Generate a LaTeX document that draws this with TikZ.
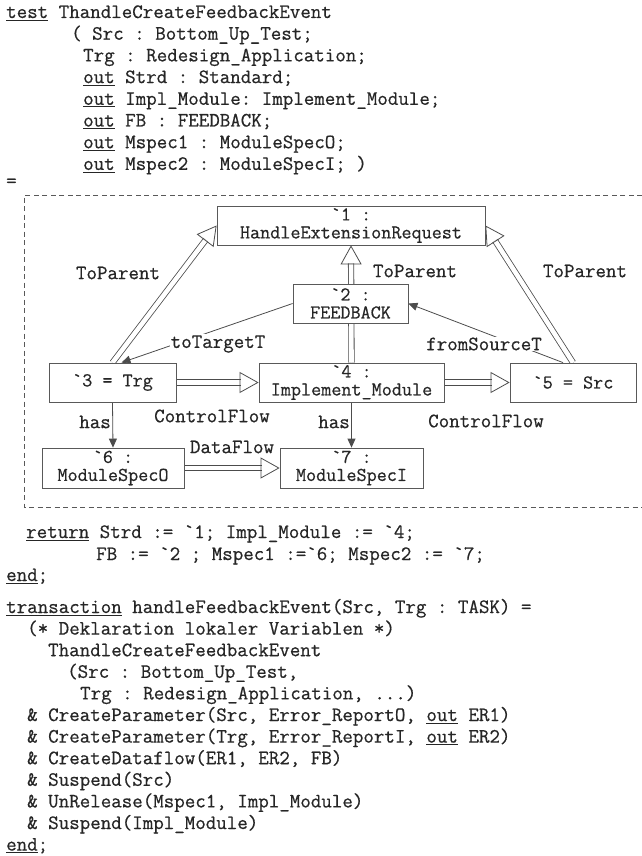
\documentclass[tikz,border=0pt]{standalone}
\usepackage{fontspec}
\setmonofont{Latin Modern Mono}[FakeBold=0.6]
\usetikzlibrary{arrows.meta,backgrounds}

\newcommand\codefont{\ttfamily\fontsize{20.4}{20}\selectfont}
\newcommand\boxfont{\ttfamily\fontsize{19.6}{18}\selectfont}
\newcommand\kw[1]{\leavevmode\setbox0\hbox{#1}\rlap{\rule[-2.6pt]{\wd0}{0.9pt}}\box0\relax}

\tikzset{
  code/.style={anchor=base west, inner sep=0pt, text=black!85, font=\codefont},
  box/.style={draw=black!65, line width=0.8pt, fill=white, align=center, inner sep=0pt, text=black!85, font=\boxfont},
  lbl/.style={fill=white, inner sep=1pt, text=black!85, font=\codefont},
  flow/.style={draw=black!70, line width=0.8pt, double=white, double distance=4.6pt, shorten >=18pt},
  flowtip/.style={draw=white, line width=0.3pt, -{Triangle[open, length=19pt, width=21pt, color=black!70, line width=0.8pt]}},
  link/.style={draw=black!70, line width=0.8pt, -{Triangle[length=9pt, width=8pt]}}
}

\begin{document}
\begin{tikzpicture}[x=1pt,y=-1pt]
  \useasboundingbox (0,0) rectangle (642,856);

  % test header
  \node[code] (head1) at (6,18) {\kw{test} ThandleCreateFeedbackEvent};
  \node[code] (head2) at (71,39.7) {( Src : Bottom\_Up\_Test;};
  \node[code] (head3) at (83,61.4) {Trg : Redesign\_Application;};
  \node[code] (head4) at (83,83.1) {\kw{out} Strd : Standard;};
  \node[code] (head5) at (83,104.8) {\kw{out} Impl\_Module: Implement\_Module;};
  \node[code] (head6) at (83,126.5) {\kw{out} FB : FEEDBACK;};
  \node[code] (head7) at (83,148.2) {\kw{out} Mspec1 : ModuleSpecO;};
  \node[code] (head8) at (83,169.9) {\kw{out} Mspec2 : ModuleSpecI; )};
  \node[code] (eq) at (6,187) {=};

  % graph
  \node[box, minimum width=268pt, minimum height=39pt] (b1) at (351,225.5) {`1 :\\HandleExtensionRequest};
  \node[box, minimum width=115pt, minimum height=39pt] (b2) at (350.5,303.5) {`2 :\\FEEDBACK};
  \node[box, minimum width=127pt, minimum height=39pt] (b3) at (112.5,382.5) {`3 = Trg};
  \node[box, minimum width=185pt, minimum height=39pt] (b4) at (351.5,382.5) {`4 :\\Implement\_Module};
  \node[box, minimum width=126pt, minimum height=39pt] (b5) at (573,382.5) {`5 = Src};
  \node[box, minimum width=142pt, minimum height=40pt] (b6) at (113,468) {`6 :\\ModuleSpecO};
  \node[box, minimum width=143pt, minimum height=40pt] (b7) at (351.5,468) {`7 :\\ModuleSpecI};

  \node[lbl] (tp1) at (118,273) {ToParent};
  \node[lbl] (tp2) at (415,271) {ToParent};
  \node[lbl] (tp3) at (585,271) {ToParent};
  \node[lbl] (tt) at (218,344) {toTargetT};
  \node[lbl] (fs) at (484,344) {fromSourceT};
  \node[lbl] (cf1) at (212,416) {ControlFlow};
  \node[lbl] (cf2) at (486,421) {ControlFlow};
  \node[lbl, fill=none, anchor=east] (has1) at (112,422) {has};
  \node[lbl, fill=none, anchor=east] (has2) at (351,422) {has};
  \node[lbl] (df) at (232,447) {DataFlow};

  \begin{scope}[on background layer]
    \draw[black!65, line width=0.8pt, dash pattern=on 5pt off 3.5pt] (642,195) -- (24,195) -- (24,507) -- (642,507);
    \foreach \a/\b in {b3.north/b1.west, b4.north/b1.south, b5.north/b1.east,
                       b3.east/b4.west, b4.east/b5.west, b6.east/b7.west} {
      \draw[flow] (\a) -- (\b);
      \draw[flowtip] (\a) -- (\b);
    }
    \draw[link] (b2.west) -- ([xshift=9pt]b3.north);
    \draw[link] ([xshift=-10pt]b5.north) -- (b2.east);
    \draw[link] (b3.south) -- (b6.north);
    \draw[link] (b4.south) -- (b7.north);
  \end{scope}

  % return part and transaction
  \node[code] (ret1) at (26,538) {\kw{return} Strd := `1; Impl\_Module := `4;};
  \node[code] (ret2) at (96,560) {FB := `2 ; Mspec1 :=`6; Mspec2 := `7;};
  \node[code] (end1) at (6,581) {\kw{end};};
  \node[code] (ta1) at (6,613) {\kw{transaction} handleFeedbackEvent(Src, Trg : TASK) =};
  \node[code] (ta2) at (27,634.6) {(* Deklaration lokaler Variablen *)};
  \node[code] (ta3) at (48,656.2) {ThandleCreateFeedbackEvent};
  \node[code] (ta4) at (67,677.8) {(Src : Bottom\_Up\_Test,};
  \node[code] (ta5) at (80,699.4) {Trg : Redesign\_Application, ...)};
  \node[code] (ta6) at (27,721) {\& CreateParameter(Src, Error\_ReportO, \kw{out} ER1)};
  \node[code] (ta7) at (27,742.6) {\& CreateParameter(Trg, Error\_ReportI, \kw{out} ER2)};
  \node[code] (ta8) at (27,764.2) {\& CreateDataflow(ER1, ER2, FB)};
  \node[code] (ta9) at (27,785.8) {\& Suspend(Src)};
  \node[code] (ta10) at (27,807.4) {\& UnRelease(Mspec1, Impl\_Module)};
  \node[code] (ta11) at (27,829) {\& Suspend(Impl\_Module)};
  \node[code] (end2) at (6,850.6) {\kw{end};};
\end{tikzpicture}
\end{document}
